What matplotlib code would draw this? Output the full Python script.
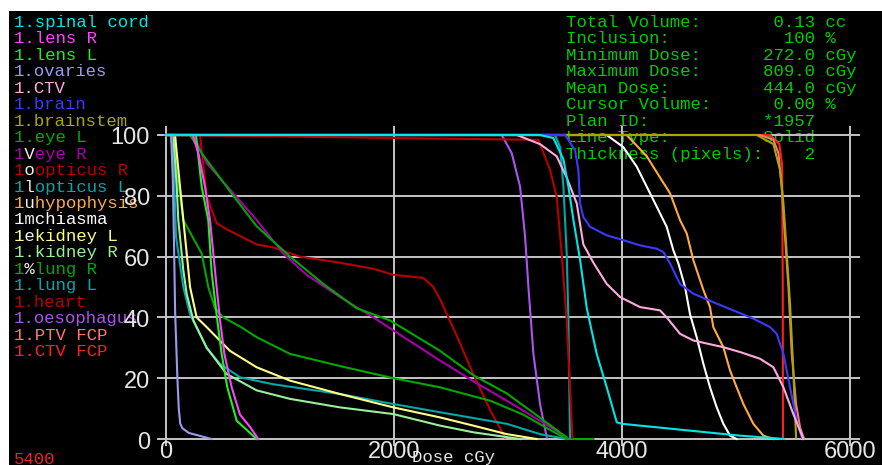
import matplotlib
matplotlib.use("Agg")
import matplotlib.pyplot as plt

# ---- dose-volume histogram data (dose in cGy, volume in %) ----
structures = ["spinal cord", "lens R", "lens L", "ovaries", "CTV", "brain",
              "brainstem", "eye L", "eye R", "opticus R", "opticus L",
              "hypophysis", "chiasma", "kidney L", "kidney R", "lung R",
              "lung L", "heart", "oesophagus", "PTV FCP", "CTV FCP"]
colors = ["#00e6e6", "#ff44ff", "#22ee22", "#9a9aee", "#ffaadd", "#3a3aff",
          "#a8a800", "#00a800", "#a800a8", "#b80000", "#00a8a8",
          "#ffaa44", "#ffffff", "#ffff88", "#99f099", "#00a800",
          "#00a8a8", "#b80000", "#aa55ee", "#ff7777", "#ff2020"]

spinal_cord_dose = [0, 3281, 3398, 3486, 3530, 3574, 3632, 3691, 3778, 3866, 3954, 4000, 4158, 4451, 4743, 5036, 5328, 5420]
spinal_cord_vol = [100, 100, 99, 92, 83, 72, 59, 43, 28, 17, 5.5, 5, 4.4, 3.3, 2.2, 1.1, 0.3, 0]
lens_r_dose = [0, 234, 284, 342, 386, 415, 444, 474, 512, 576, 649, 737, 809]
lens_r_vol = [100, 100, 94, 83, 72, 61, 50, 39, 28, 17, 8, 4, 0]
lens_l_dose = [0, 263, 313, 371, 400, 450, 488, 538, 620, 708, 795]
lens_l_vol = [100, 100, 83, 72, 55, 39, 28, 17, 6, 3, 0]
ovaries_dose = [0, 45, 60, 70, 80, 88, 100, 112, 125, 145, 200, 300, 400]
ovaries_vol = [100, 100, 85, 65, 42, 33, 20, 10, 5, 3.5, 2, 1, 0]
ctv_dose = [0, 3077, 3281, 3427, 3515, 3603, 3661, 3749, 3866, 3983, 4158, 4334, 4392, 4509, 4626, 4889, 5036, 5211, 5328, 5416, 5503, 5591]
ctv_vol = [100, 100, 97, 93, 86, 77.5, 64, 58, 51, 46.7, 43.4, 42.3, 40, 34.6, 32.4, 30.2, 28.6, 26.4, 23.6, 17, 8.2, 0]
brain_dose = [0, 3501, 3588, 3617, 3632, 3661, 3720, 3866, 4012, 4158, 4305, 4363, 4422, 4509, 4626, 4801, 4977, 5152, 5299, 5357, 5416, 5474, 5533, 5577]
brain_vol = [100, 100, 95, 88.5, 77.5, 73, 69.8, 67, 65.4, 63.7, 62.6, 61.5, 57.7, 51, 47.8, 45, 42.3, 39.6, 36.8, 34.6, 28, 17, 6, 0.5]
brainstem_dose = [0, 5182, 5328, 5386, 5416, 5445, 5474, 5503, 5527]
brainstem_vol = [100, 100, 97, 88.5, 77.5, 61, 44.5, 22.5, 0.5]
eye_l_dose = [0, 211, 313, 591, 795, 1088, 1380, 1673, 1965, 2404, 2696, 2989, 3281, 3515]
eye_l_vol = [100, 100, 94, 80, 70, 60, 51, 43, 39, 29, 21, 15, 7, 0.5]
eye_r_dose = [0, 240, 357, 591, 795, 1029, 1234, 1526, 1819, 1994, 2404, 2696, 2989, 3281, 3515]
eye_r_vol = [100, 100, 90.7, 80.8, 72, 61, 54, 46.7, 40, 35.7, 25.8, 19, 12.6, 6, 0.5]
opticus_r_dose = [0, 3267, 3369, 3427, 3471, 3515, 3544, 3565]
opticus_r_vol = [100, 98.4, 88.5, 79.7, 61, 39, 17, 0.5]
opticus_l_dose = [0, 3413, 3457, 3486, 3515, 3530, 3544]
opticus_l_vol = [100, 100, 96, 83, 61, 39, 0.5]
hypophysis_dose = [0, 4041, 4217, 4334, 4422, 4509, 4568, 4626, 4714, 4772, 4801, 4889, 4948, 5006, 5065, 5152, 5240, 5328]
hypophysis_vol = [100, 100, 93, 86, 80.8, 72, 67.6, 58.8, 49, 43.4, 36.8, 30.2, 22.5, 17, 11.5, 5, 1.1, 0]
chiasma_dose = [0, 3866, 4012, 4129, 4217, 4305, 4392, 4451, 4495, 4553, 4597, 4655, 4714, 4772, 4831, 4889, 4948, 5006]
chiasma_vol = [100, 100, 96, 89.6, 83, 76.4, 69.8, 62, 57.7, 50, 41, 33.5, 24.7, 17, 10.4, 5, 1.1, 0]
kidney_l_dose = [0, 79, 123, 167, 211, 269, 357, 561, 795, 1088, 1526, 1994, 2404, 2696, 2989, 3252]
kidney_l_vol = [100, 100, 83, 66.5, 50, 40, 36.8, 29, 23.6, 19.2, 14.8, 10.4, 7.1, 4.4, 1.6, 0]
kidney_r_dose = [0, 64, 94, 108, 152, 181, 240, 357, 532, 795, 1088, 1526, 1994, 2404, 2696, 3106]
kidney_r_vol = [100, 100, 83, 72, 55.5, 47.8, 39, 30, 21.4, 16, 13.2, 10.4, 8.2, 4.4, 2.2, 0]
lung_r_dose = [0, 79, 94, 152, 313, 371, 430, 503, 649, 795, 1088, 1526, 1994, 2404, 2843, 3135, 3369, 3515, 3750]
lung_r_vol = [100, 100, 88, 72, 61, 50, 43, 40, 37, 33.5, 28, 24, 20, 17, 12.6, 8, 3, 0, 0]
lung_l_dose = [0, 41, 64, 88, 152, 211, 357, 474, 649, 942, 1526, 1994, 2404, 2989, 3281, 3515]
lung_l_vol = [100, 100, 94, 66.5, 50, 41, 30, 24.7, 20.3, 18, 14.8, 11.5, 8.8, 5, 1.6, 0]
heart_dose = [0, 298, 357, 444, 532, 795, 942, 1175, 1526, 1819, 1994, 2257, 2345, 2404, 2550, 2700, 2850, 2975]
heart_vol = [100, 100, 80, 71, 69, 64, 63, 60, 58, 56, 54, 53, 50, 46, 34, 21, 9, 0.5]
oesophagus_dose = [0, 2945, 3033, 3106, 3150, 3179, 3223, 3281, 3340]
oesophagus_vol = [100, 100, 94, 83, 66.5, 50, 28, 11.5, 0.5]
ptv_fcp_dose = [0, 5211, 5328, 5372, 5401, 5430, 5460, 5489, 5527, 5562, 5597]
ptv_fcp_vol = [100, 100, 98.4, 94, 83, 66.5, 50, 28, 11.5, 3.8, 0]
ctv_fcp_dose = [0, 5300, 5380, 5405, 5410, 5412]
ctv_fcp_vol = [100, 100, 97, 90, 50, 0]

doses = [spinal_cord_dose, lens_r_dose, lens_l_dose, ovaries_dose, ctv_dose,
         brain_dose, brainstem_dose, eye_l_dose, eye_r_dose, opticus_r_dose,
         opticus_l_dose, hypophysis_dose, chiasma_dose, kidney_l_dose,
         kidney_r_dose, lung_r_dose, lung_l_dose, heart_dose, oesophagus_dose,
         ptv_fcp_dose, ctv_fcp_dose]
volumes = [spinal_cord_vol, lens_r_vol, lens_l_vol, ovaries_vol, ctv_vol,
           brain_vol, brainstem_vol, eye_l_vol, eye_r_vol, opticus_r_vol,
           opticus_l_vol, hypophysis_vol, chiasma_vol, kidney_l_vol,
           kidney_r_vol, lung_r_vol, lung_l_vol, heart_vol, oesophagus_vol,
           ptv_fcp_vol, ctv_fcp_vol]

x_ticks = [0, 2000, 4000, 6000]
y_ticks = [0, 20, 40, 60, 80, 100]

# y-axis title written one character per legend row
y_title = "Volume %"
y_title_first_row = 8

info_labels = ["Total Volume:", "Inclusion:", "Minimum Dose:", "Maximum Dose:",
               "Mean Dose:", "Cursor Volume:", "Plan ID:", "Line Type:",
               "Thickness (pixels):"]
info_values = ["0.13", "100", "272.0", "809.0", "444.0", "0.00", "*1957", "Solid", "2"]
info_units = ["cc", "%", "cGy", "cGy", "cGy", "%", "", "", ""]

W, H = 882, 465
fig = plt.figure(figsize=(W / 100, H / 100), dpi=100, facecolor="white")
ax = fig.add_axes([9 / W, 0, (W - 9) / W, (H - 11) / H])
ax.set_facecolor("black")
for s in ax.spines.values():
    s.set_visible(False)
ax.set_xticks([])
ax.set_yticks([])

# pixel <-> data scale of the plotting frame
X0, PX_PER_CGY = 166, 228 / 2000
Y0, PX_PER_PCT = 439, 3.04
ax.set_xlim((9 - X0) / PX_PER_CGY, (W - X0) / PX_PER_CGY)
ax.set_ylim((Y0 - H) / PX_PER_PCT, (Y0 - 11) / PX_PER_PCT)


def fx(px):
    return (px - 9) / (W - 9)


def fy(py):
    return (H - py) / (H - 11)


mono = "Liberation Mono"
fs = 12.5
grid_c = "#c4c4c4"

# grid
ax.hlines(y_ticks, -79, 6088, colors=grid_c, lw=1.4, zorder=1)
ax.vlines(x_ticks, -2.3, 103, colors=grid_c, lw=1.4, zorder=1)

# curves
for name, d, v, c in reversed(list(zip(structures, doses, volumes, colors))):
    ax.plot(d, v, color=c, lw=1.5, zorder=2, solid_joinstyle="miter")

# tick labels
for t in y_ticks:
    ax.text(fx(150), fy(Y0 - t * PX_PER_PCT + 3.5), str(t), transform=ax.transAxes,
            ha="right", va="center", fontsize=17, family="Liberation Sans",
            color="#e6e6e6", zorder=1.5)
for t in x_ticks:
    ax.text(fx(X0 + t * PX_PER_CGY), fy(452), str(t), transform=ax.transAxes,
            ha="center", va="center", fontsize=17, family="Liberation Sans",
            color="#e6e6e6", zorder=1.5, clip_on=False)

ax.text(fx(412), fy(462), "Dose cGy", transform=ax.transAxes, ha="left",
        va="baseline", fontsize=fs, family=mono, color="#e6e6e6", zorder=1.6)

# structure legend
pitch = 16.45
for i, (name, c) in enumerate(zip(structures, colors)):
    k = i - y_title_first_row
    base = fy(27 + i * pitch)
    if 0 <= k < len(y_title) and y_title[k] != " ":
        ax.text(fx(14), base, "1 " + name, transform=ax.transAxes, ha="left",
                va="baseline", fontsize=fs, family=mono, color=c, zorder=0.5)
        ax.text(fx(14), base, " " + y_title[k], transform=ax.transAxes, ha="left",
                va="baseline", fontsize=fs, family=mono, color="#f0f0f0", zorder=0.6)
    else:
        ax.text(fx(14), base, "1." + name, transform=ax.transAxes, ha="left",
                va="baseline", fontsize=fs, family=mono, color=c, zorder=0.5)

ax.text(fx(14), fy(464), "5400", transform=ax.transAxes, ha="left",
        va="baseline", fontsize=fs, family=mono, color="#ee2222", zorder=0.5)

# statistics block
for i, (lab, val, unit) in enumerate(zip(info_labels, info_values, info_units)):
    line = lab + val.rjust(24 - len(lab))
    if unit:
        line += " " + unit
    ax.text(fx(566), fy(27 + i * pitch), line, transform=ax.transAxes, ha="left",
            va="baseline", fontsize=fs, family=mono, color="#00cc00", zorder=0.5)

fig.savefig("out.png", dpi=100, facecolor="white")
